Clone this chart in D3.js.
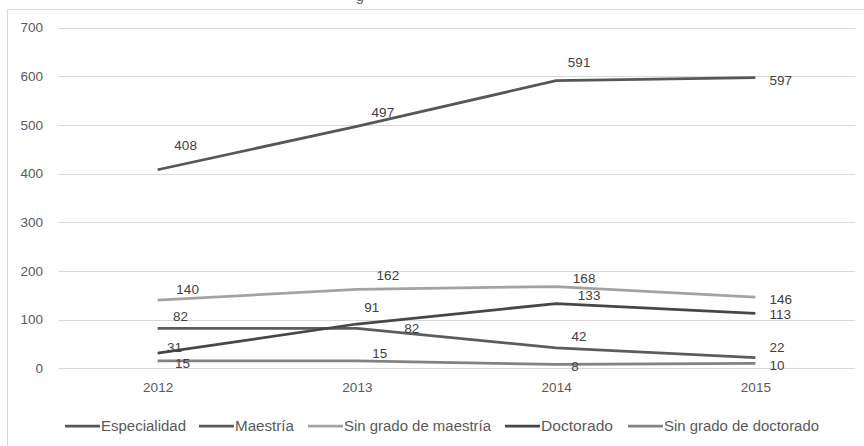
<!DOCTYPE html>
<html>
<head>
<meta charset="utf-8">
<script src="https://cdn.jsdelivr.net/npm/d3@7"></script>
<style>
  html, body { margin: 0; padding: 0; background: #fff; }
  svg { display: block; }
  text { font-family: "Liberation Sans", Arial, sans-serif; }
</style>
</head>
<body>
<svg id="chart" width="864" height="446"></svg>
<script>
// Years on the horizontal axis
const years = ["2012", "2013", "2014", "2015"];

// Series, in legend order
const seriesNames = ["Especialidad", "Maestría", "Sin grado de maestría", "Doctorado", "Sin grado de doctorado"];
const especialidad = [408, 497, 591, 597];
const maestria = [82, 82, 42, 22];
const sinGradoMaestria = [140, 162, 168, 146];
const doctorado = [31, 91, 133, 113];
const sinGradoDoctorado = [15, 15, 8, 10];

// Y axis ticks
const yTicks = [0, 100, 200, 300, 400, 500, 600, 700];

const seriesValues = [especialidad, maestria, sinGradoMaestria, doctorado, sinGradoDoctorado];
const colors = ["#575757", "#5c5c5c", "#a3a3a3", "#474747", "#828282"];
const drawOrder = [2, 4, 1, 3, 0];

// Label offsets (dx, dy) from each point, per series and year
const labelOffsets = [
  [[28, -24], [26, -14], [23, -18], [14, 2.5]],
  [[23, -12], [55, 0], [23, -12], [14, -10.5]],
  [[30, -11], [31, -14.5], [28, -8.5], [14, 2]],
  [[17, -6], [15, -17], [33, -8.5], [14, 1]],
  [[25, 2], [23, -8], [19, 1.5], [14, 1.5]]
];
const labelAnchors = ["middle", "middle", "middle", "start"];

const svg = d3.select("#chart");
const plotLeft = 58, plotRight = 855, plotTop = 27.6, plotBottom = 368.3;

const x = d3.scalePoint().domain(years).range([plotLeft, plotRight]).padding(0.5);
const y = d3.scaleLinear().domain([0, 700]).range([plotBottom, plotTop]);

// Chart frame (extends past the visible area on the right and bottom)
svg.append("path")
  .attr("d", "M7.5,446 L7.5,9.5 L864,9.5")
  .attr("fill", "none")
  .attr("stroke", "#d9d9d9")
  .attr("stroke-width", 1);

// Remnant of the title above the frame
svg.append("text")
  .attr("x", 360).attr("y", 1)
  .attr("text-anchor", "middle")
  .attr("font-size", 14)
  .attr("fill", "#595959")
  .text("g");

// Gridlines
svg.append("g")
  .selectAll("line")
  .data(yTicks)
  .join("line")
  .attr("x1", plotLeft).attr("x2", plotRight)
  .attr("y1", d => Math.round(y(d)) + 0.5)
  .attr("y2", d => Math.round(y(d)) + 0.5)
  .attr("stroke", "#d9d9d9")
  .attr("stroke-width", 1);

// Y axis labels
const yAxis = d3.axisLeft(y).tickValues(yTicks).tickSize(0).tickPadding(0);
const gy = svg.append("g").attr("transform", "translate(43,0)").call(yAxis);
gy.select(".domain").remove();
gy.selectAll("text")
  .attr("font-family", "Liberation Sans, Arial, sans-serif")
  .attr("font-size", 13.5)
  .attr("fill", "#595959");

// X axis labels
const xAxis = d3.axisBottom(x).tickSize(0).tickPadding(0);
const gx = svg.append("g").attr("transform", "translate(0,382)").call(xAxis);
gx.select(".domain").remove();
gx.selectAll("text")
  .attr("font-family", "Liberation Sans, Arial, sans-serif")
  .attr("font-size", 13.5)
  .attr("fill", "#595959");

// Lines
const line = d3.line()
  .x((d, i) => x(years[i]))
  .y(d => y(d));

drawOrder.forEach(s => {
  svg.append("path")
    .datum(seriesValues[s])
    .attr("d", line)
    .attr("fill", "none")
    .attr("stroke", colors[s])
    .attr("stroke-width", 2.75)
    .attr("stroke-linejoin", "round");
});

// Data labels
seriesValues.forEach((vals, s) => {
  svg.append("g")
    .selectAll("text")
    .data(vals)
    .join("text")
    .attr("x", (d, i) => x(years[i]) + labelOffsets[s][i][0])
    .attr("y", (d, i) => y(d) + labelOffsets[s][i][1])
    .attr("dy", "0.35em")
    .attr("text-anchor", (d, i) => labelAnchors[i])
    .attr("font-size", 13.5)
    .attr("fill", "#404040")
    .text(d => d);
});

// Legend
const legendItems = [
  { x: 65, w: 85 },
  { x: 199, w: 59 },
  { x: 308, w: 147 },
  { x: 505, w: 72 },
  { x: 628, w: 155 }
];
const legendY = 426;
const lg = svg.append("g");
seriesNames.forEach((name, i) => {
  const it = legendItems[i];
  lg.append("line")
    .attr("x1", it.x).attr("x2", it.x + 35)
    .attr("y1", legendY).attr("y2", legendY)
    .attr("stroke", colors[i])
    .attr("stroke-width", 2.75);
  lg.append("text")
    .attr("x", it.x + 36)
    .attr("y", legendY)
    .attr("dy", "0.35em")
    .attr("font-size", 14)
    .attr("fill", "#595959")
    .attr("textLength", it.w)
    .attr("lengthAdjust", "spacingAndGlyphs")
    .text(name);
});
</script>
</body>
</html>
